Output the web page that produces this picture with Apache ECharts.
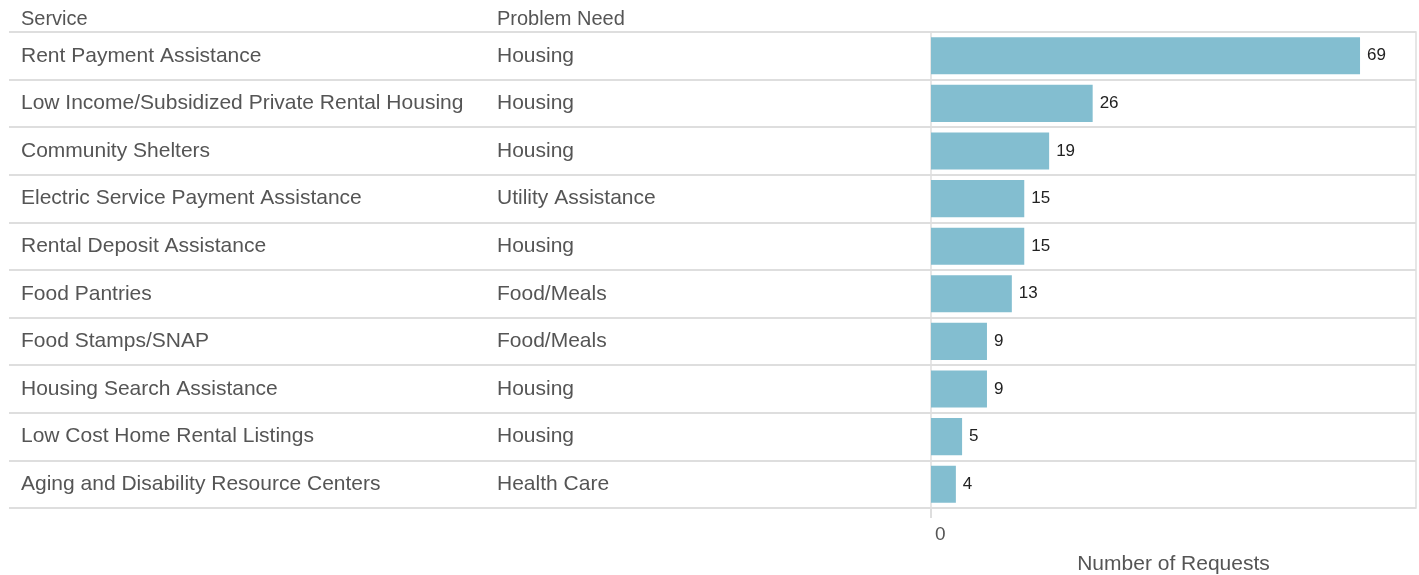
<!DOCTYPE html>
<html>
<head>
<meta charset="utf-8">
<script src="https://cdn.jsdelivr.net/npm/echarts@6/dist/echarts.min.js"></script>
<style>
  html, body { margin: 0; padding: 0; background: #fff; }
  #chart { width: 1419px; height: 575px; }
</style>
</head>
<body>
<div id="chart"></div>
<script>
// 表格数据
const services = [
  'Rent Payment Assistance',
  'Low Income/Subsidized Private Rental Housing',
  'Community Shelters',
  'Electric Service Payment Assistance',
  'Rental Deposit Assistance',
  'Food Pantries',
  'Food Stamps/SNAP',
  'Housing Search Assistance',
  'Low Cost Home Rental Listings',
  'Aging and Disability Resource Centers'
];
const needs = [
  'Housing', 'Housing', 'Housing', 'Utility Assistance', 'Housing',
  'Food/Meals', 'Food/Meals', 'Housing', 'Housing', 'Health Care'
];
const requests = [69, 26, 19, 15, 15, 13, 9, 9, 5, 4];
const xTicks = [0];

const FONT = '"Liberation Sans", Arial, Helvetica, sans-serif';
const LINE = '#dedede';
const TEXT = '#555';

const chart = echarts.init(document.getElementById('chart'));
chart.setOption({
  animation: false,
  textStyle: { fontFamily: FONT },
  title: {
    text: '{a|Service}{b|Problem Need}',
    left: 16,
    top: 4,
    textStyle: {
      rich: {
        a: { width: 476, fontSize: 20, color: TEXT, fontFamily: FONT, fontWeight: 'normal' },
        b: { fontSize: 20, color: TEXT, fontFamily: FONT, fontWeight: 'normal' }
      }
    }
  },
  grid: [
    { left: 9, right: 3, top: 32, bottom: 67, outerBoundsMode: 'none' },
    { left: 931, right: 3, top: 32, bottom: 67, outerBoundsMode: 'none', show: true, borderColor: LINE, borderWidth: 1.5, backgroundColor: 'transparent' }
  ],
  xAxis: [
    { gridIndex: 0, type: 'value', show: false },
    {
      gridIndex: 1,
      type: 'value',
      min: 0,
      max: 78,
      splitLine: { show: false },
      axisLine: { show: false },
      axisTick: { show: true, customValues: xTicks, length: 10, lineStyle: { color: LINE, width: 2 } },
      axisLabel: { customValues: xTicks, fontSize: 19, color: TEXT, margin: 17, align: 'left', padding: [0, 0, 0, 4] },
      name: 'Number of Requests',
      nameLocation: 'middle',
      nameGap: 46,
      nameTextStyle: { fontSize: 21, color: TEXT }
    }
  ],
  yAxis: [
    {
      gridIndex: 0,
      type: 'category',
      inverse: true,
      data: services,
      axisLine: { show: false },
      axisTick: { show: false },
      axisLabel: { show: false },
      splitLine: { show: true, lineStyle: { color: LINE, width: 2 } }
    },
    {
      gridIndex: 1,
      type: 'category',
      inverse: true,
      data: services,
      axisLine: { show: false },
      axisTick: { show: false },
      splitLine: { show: false },
      axisLabel: {
        align: 'left',
        margin: 910,
        formatter: (v, i) => '{a|' + v + '}{b|' + needs[i] + '}',
        rich: {
          a: { width: 476, fontSize: 21, color: TEXT, fontFamily: FONT },
          b: { fontSize: 21, color: TEXT, fontFamily: FONT }
        }
      }
    }
  ],
  series: [{
    type: 'bar',
    xAxisIndex: 1,
    yAxisIndex: 1,
    data: requests,
    barCategoryGap: '22%',
    itemStyle: { color: '#83bed0' },
    label: { show: true, position: 'right', distance: 7, fontSize: 17, color: '#222' }
  }]
});
</script>
</body>
</html>
